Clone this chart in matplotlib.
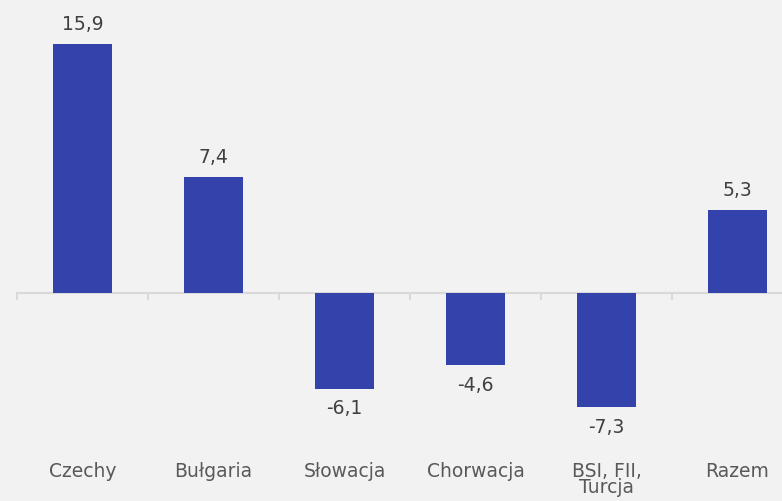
import numpy as np
import matplotlib.pyplot as plt

# Data
categories = ['Czechy', 'Bułgaria', 'Słowacja', 'Chorwacja', 'BSI, FII,\nTurcja', 'Razem']
values = [15.9, 7.4, -6.1, -4.6, -7.3, 5.3]

bg = '#f2f2f2'
bar_color = '#3442ab'

fig = plt.figure(figsize=(7.82, 5.02), dpi=100, facecolor=bg)
ax = fig.add_axes([17 / 782, 0, 786 / 782, 1])
ax.set_facecolor(bg)

x = np.arange(len(categories))
ax.bar(x, values, width=0.45, color=bar_color, zorder=3)

ax.set_xlim(-0.5, len(categories) - 0.5)
ax.set_ylim(-13.28, 18.77)

# zero axis with boundary ticks
for s in ['top', 'right', 'left']:
    ax.spines[s].set_visible(False)
ax.spines['bottom'].set_position(('data', 0))
ax.spines['bottom'].set_color('#d9d9d9')
ax.spines['bottom'].set_linewidth(1.5)
ax.set_xticks(np.arange(len(categories) + 1) - 0.5)
ax.set_xticklabels([])
ax.tick_params(axis='x', direction='out', length=5, width=1.5, color='#d9d9d9')
ax.set_yticks([])

# value labels
for xi, v in zip(x, values):
    label = f'{v:.1f}'.replace('.', ',')
    if v >= 0:
        ax.annotate(label, (xi, v), xytext=(0, 8), textcoords='offset points',
                    ha='center', va='bottom', fontsize=13.5, color='#404040')
    else:
        ax.annotate(label, (xi, v), xytext=(0, -7), textcoords='offset points',
                    ha='center', va='top', fontsize=13.5, color='#404040')

# category labels at the bottom
for xi, c in zip(x, categories):
    ax.text(xi, -10.75, c, ha='center', va='top', fontsize=13.5, color='#595959',
            linespacing=0.8)

fig.savefig('out.png', dpi=100, facecolor=bg)
